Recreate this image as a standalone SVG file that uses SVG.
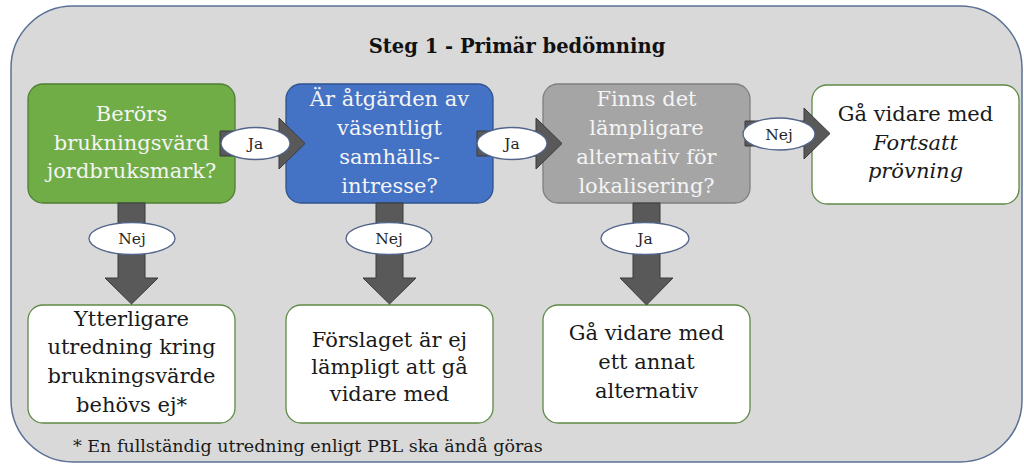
<svg xmlns="http://www.w3.org/2000/svg" width="1024" height="464" viewBox="0 0 1024 464">
<style>
.t{font-family:"DejaVu Serif","Liberation Serif",serif;font-size:21px;text-anchor:middle}
.w{fill:#f4f4f4}
.d{fill:#1a1a1a}
.box{stroke-width:1.3}
.wb{fill:#ffffff;stroke:#5f8a45;stroke-width:1.3}
.arr{fill:#595959;stroke:#3a3a3a;stroke-width:1}
.lab{fill:#ffffff;stroke:#52658a;stroke-width:1.3}
.lt{font-family:"DejaVu Serif","Liberation Serif",serif;font-size:15.5px;text-anchor:middle;fill:#262626}
</style>
<rect x="11" y="6" width="1011" height="456" rx="62" ry="62" fill="#d9d9d9" stroke="#5b7095" stroke-width="1.5"/>
<text x="517" y="53" font-family="DejaVu Serif, Liberation Serif, serif" font-size="19.5" font-weight="bold" text-anchor="middle" fill="#111">Steg 1 - Primär bedömning</text>

<g id="n1">
<rect class="box" x="28" y="84" width="207" height="119" rx="15" fill="#70ad47" stroke="#507e32"/>
<text class="t w" x="131.5" y="121">Berörs</text>
<text class="t w" x="131.5" y="150">brukningsvärd</text>
<text class="t w" x="131.5" y="178">jordbruksmark?</text>
</g>
<g id="n2">
<rect class="box" x="286" y="84" width="207" height="119" rx="15" fill="#4472c4" stroke="#2f528f"/>
<text class="t w" x="389.5" y="106">Är åtgärden av</text>
<text class="t w" x="389.5" y="135">väsentligt</text>
<text class="t w" x="389.5" y="164">samhälls-</text>
<text class="t w" x="389.5" y="193">intresse?</text>
</g>
<g id="n3">
<rect class="box" x="543" y="84" width="207" height="119" rx="15" fill="#a5a5a5" stroke="#7f7f7f"/>
<text class="t w" x="646.5" y="106">Finns det</text>
<text class="t w" x="646.5" y="135">lämpligare</text>
<text class="t w" x="646.5" y="164">alternativ för</text>
<text class="t w" x="646.5" y="193">lokalisering?</text>
</g>
<g id="n4">
<rect class="wb" x="812" y="85" width="207" height="119" rx="15"/>
<text class="t d" x="915.5" y="121">Gå vidare med</text>
<text class="t d" x="915.5" y="150" font-style="italic">Fortsatt</text>
<text class="t d" x="915.5" y="178" font-style="italic">prövning</text>
</g>
<g id="n5">
<rect class="wb" x="28" y="305" width="207" height="118" rx="15"/>
<text class="t d" x="131.5" y="326">Ytterligare</text>
<text class="t d" x="131.5" y="354">utredning kring</text>
<text class="t d" x="131.5" y="383">brukningsvärde</text>
<text class="t d" x="131.5" y="412">behövs ej*</text>
</g>
<g id="n6">
<rect class="wb" x="286" y="305" width="207" height="118" rx="15"/>
<text class="t d" x="389.5" y="347">Förslaget är ej</text>
<text class="t d" x="389.5" y="374">lämpligt att gå</text>
<text class="t d" x="389.5" y="401">vidare med</text>
</g>
<g id="n7">
<rect class="wb" x="543" y="305" width="207" height="118" rx="15"/>
<text class="t d" x="646.5" y="340">Gå vidare med</text>
<text class="t d" x="646.5" y="369">ett annat</text>
<text class="t d" x="646.5" y="398">alternativ</text>
</g>

<g id="connectors">
<polygon class="arr" points="220,131 279,131 279,118 305,143.5 279,169 279,156 220,156"/>
<polygon class="arr" points="477,131 536,131 536,118 562,143.5 536,169 536,156 477,156"/>
<polygon class="arr" points="745,121 804,121 804,108 830,133.5 804,159 804,146 745,146"/>
<polygon class="arr" points="118,203 145,203 145,278 158,278 131.5,304 105,278 118,278"/>
<polygon class="arr" points="376,203 403,203 403,278 416,278 389.5,304 363,278 376,278"/>
<polygon class="arr" points="633,203 660,203 660,278 673,278 646.5,305 620,278 633,278"/>
<ellipse class="lab" cx="255.5" cy="143.5" rx="34.5" ry="16"/>
<text class="lt" x="255.5" y="149">Ja</text>
<ellipse class="lab" cx="512" cy="143.5" rx="35" ry="16"/>
<text class="lt" x="512" y="149">Ja</text>
<ellipse class="lab" cx="779" cy="134" rx="36" ry="16"/>
<text class="lt" x="779" y="139.5">Nej</text>
<ellipse class="lab" cx="132" cy="238.5" rx="43" ry="16"/>
<text class="lt" x="132" y="244">Nej</text>
<ellipse class="lab" cx="389" cy="238.5" rx="43" ry="16"/>
<text class="lt" x="389" y="244">Nej</text>
<ellipse class="lab" cx="645" cy="238.5" rx="44" ry="16"/>
<text class="lt" x="645" y="244">Ja</text>
</g>

<text x="73" y="452" font-family="DejaVu Serif, Liberation Serif, serif" font-size="17.5" fill="#1a1a1a">* En fullständig utredning enligt PBL ska ändå göras</text>
</svg>
